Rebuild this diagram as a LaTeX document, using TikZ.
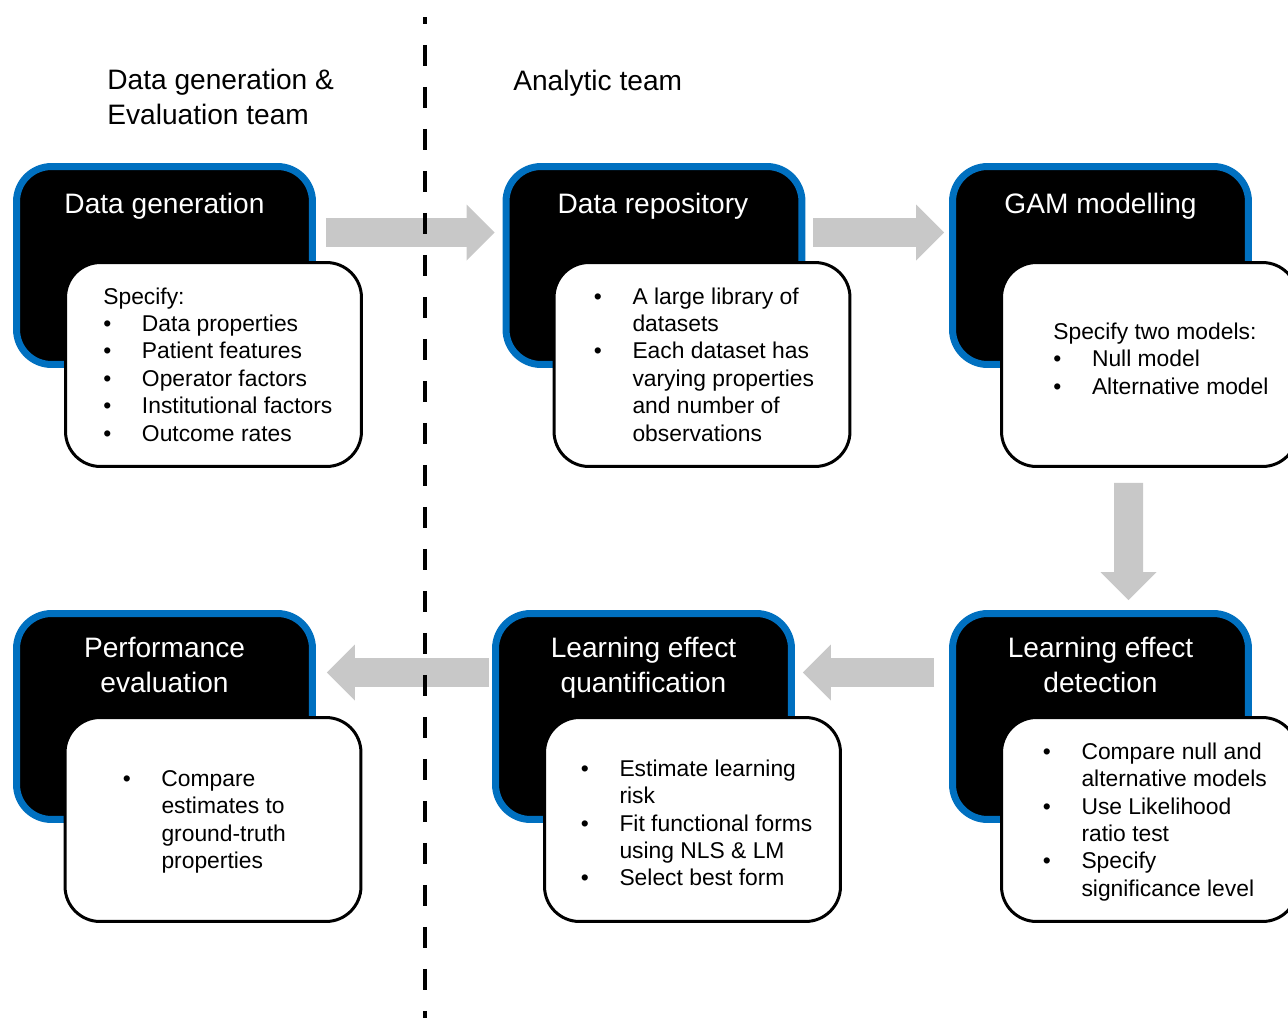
\documentclass[tikz,border=0pt]{standalone}
\usepackage{fontspec}
\setmainfont{Liberation Sans}
\usepackage{tikz}
\usetikzlibrary{arrows.meta}
\definecolor{tblue}{HTML}{0070C0}
\definecolor{tarrow}{HTML}{C8C8C8}
\tikzset{
  stagebox/.style={draw=tblue, fill=black, rounded corners=0.7cm,
                   minimum width=5.92cm, minimum height=3.96cm, line width=0.14cm},
  stageboxtall/.style={stagebox, minimum height=4.12cm},
  notebox/.style={draw=black, fill=white, rounded corners=0.7cm,
                  minimum width=5.92cm, minimum height=4.08cm, line width=0.06cm},
  stagetitle/.style={text=white, align=center, anchor=base, inner sep=0pt,
                     font=\fontsize{16}{19.6}\selectfont},
  notetext/.style={anchor=base west, inner sep=0pt, font=\fontsize{13}{15.65}\selectfont},
  teamlabel/.style={anchor=base west, align=left, inner sep=0pt,
                    font=\fontsize{16}{19.6}\selectfont},
  flowarrow/.style={draw=tarrow, line width=0.58cm,
                    -{Triangle[length=0.56cm, width=1.12cm, line width=0pt]}},
  divider/.style={line width=2pt, dash pattern=on 0.42cm off 0.42cm, dash phase=0.28cm},
}
% bullet list: first column holds the bullet, second the wrapped text
\newcommand{\notelist}[1]{\begin{tabular}[t]{@{}p{22pt}@{}l@{}}#1\end{tabular}}
\newcommand{\bul}{\textbullet}

\begin{document}
\begin{tikzpicture}[x=0.02cm, y=-0.02cm]

  \useasboundingbox (0,0) rectangle (1288,1018);

  % team headings (base = last line)
  \node[teamlabel] (teamdata) at (107,124) {Data generation \&\\Evaluation team};
  \node[teamlabel] (teamanalytic) at (513,90) {Analytic team};

  % top row
  \node[stagebox] (gen) at (164.5,265.5) {};
  \node[notebox] (genN) at (213.5,364.5) {};
  \node[stagetitle] (genT) at (164.5,213) {Data generation};
  \node[notetext] (genL) at (103,304) {\notelist{%
    \multicolumn{2}{@{}l@{}}{Specify:}\\
    \bul & Data properties\\
    \bul & Patient features\\
    \bul & Operator factors\\
    \bul & Institutional factors\\
    \bul & Outcome rates}};

  \node[stagebox] (repo) at (654,265.5) {};
  \node[notebox] (repoN) at (702,364.5) {};
  \node[stagetitle] (repoT) at (653,213) {Data repository};
  \node[notetext] (repoL) at (593.5,304) {\notelist{%
    \bul & A large library of\\
         & datasets\\
    \bul & Each dataset has\\
         & varying properties\\
         & and number of\\
         & observations}};

  \node[stagebox] (gam) at (1100.5,265.5) {};
  \node[notebox] (gamN) at (1149.5,364.5) {};
  \node[stagetitle] (gamT) at (1100.5,213) {GAM modelling};
  \node[notetext] (gamL) at (1053,339) {\notelist{%
    \multicolumn{2}{@{}l@{}}{Specify two models:}\\
    \bul & Null model\\
    \bul & Alternative model}};

  % bottom row
  \node[stageboxtall] (perf) at (164.5,716.5) {};
  \node[notebox] (perfN) at (213,819.5) {};
  \node[stagetitle] (perfT) at (164.5,692) {Performance\\evaluation};
  \node[notetext] (perfL) at (122.5,786) {\notelist{%
    \bul & Compare\\
         & estimates to\\
         & ground-truth\\
         & properties}};

  \node[stageboxtall] (quant) at (643.5,716.5) {};
  \node[notebox] (quantN) at (692.5,819.5) {};
  \node[stagetitle] (quantT) at (643.5,692) {Learning effect\\quantification};
  \node[notetext] (quantL) at (580.5,776) {\notelist{%
    \bul & Estimate learning\\
         & risk\\
    \bul & Fit functional forms\\
         & using NLS \& LM\\
    \bul & Select best form}};

  \node[stageboxtall] (detect) at (1100.5,716.5) {};
  \node[notebox] (detectN) at (1149.5,819.5) {};
  \node[stagetitle] (detectT) at (1100.5,692) {Learning effect\\detection};
  \node[notetext] (detectL) at (1042.5,759) {\notelist{%
    \bul & Compare null and\\
         & alternative models\\
    \bul & Use Likelihood\\
         & ratio test\\
    \bul & Specify\\
         & significance level}};

  % flow between stages
  \draw[flowarrow] ([xshift=0.2cm, yshift=0.66cm]gen.east) -- ([xshift=-0.16cm, yshift=0.66cm]repo.west);
  \draw[flowarrow] ([xshift=0.16cm, yshift=0.66cm]repo.east) -- ([xshift=-0.1cm, yshift=0.66cm]gam.west);
  \draw[flowarrow] ([xshift=-0.42cm, yshift=-0.3cm]gamN.south) -- ([xshift=0.56cm, yshift=0.2cm]detect.north);
  \draw[flowarrow] ([xshift=-0.3cm, yshift=0.88cm]detect.west) -- ([xshift=0.16cm, yshift=0.88cm]quant.east);
  \draw[flowarrow] ([xshift=-0.06cm, yshift=0.88cm]quant.west) -- ([xshift=0.22cm, yshift=0.88cm]perf.east);

  % team boundary
  \draw[divider] (425,17) -- (425,1018);

\end{tikzpicture}
\end{document}
